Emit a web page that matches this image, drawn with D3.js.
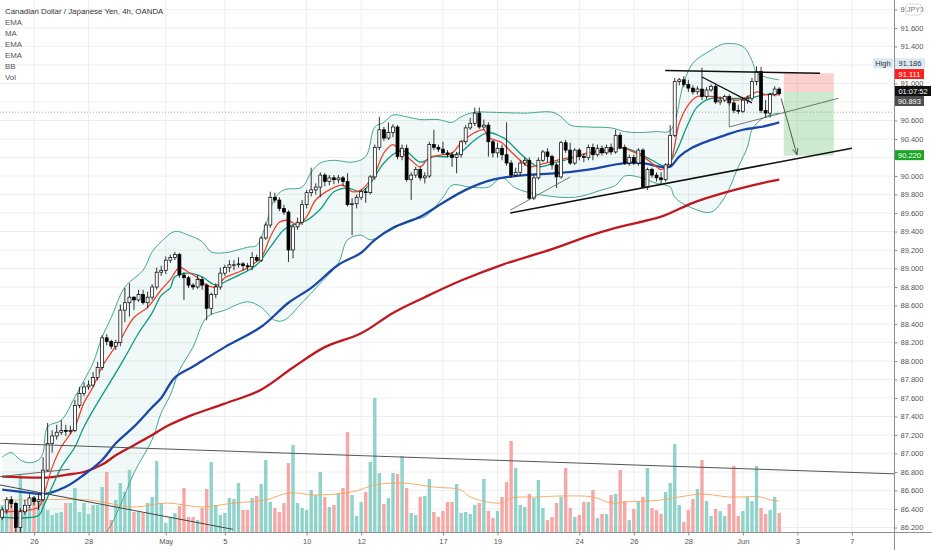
<!DOCTYPE html>
<html><head><meta charset="utf-8">
<script src="https://cdn.jsdelivr.net/npm/d3@7"></script>
<style>html,body{margin:0;padding:0;background:#fff;overflow:hidden}text{font-family:"Liberation Sans",Arial,sans-serif}</style>
</head><body><svg id="c" width="932" height="550"></svg>
<script>
// ---------- DATA (CAD/JPY 4h, OANDA) ----------
const opens = [86.31,86.39,86.50,86.46,86.20,86.37,86.44,86.52,86.48,86.50,
86.82,87.11,87.19,87.23,87.25,87.24,87.25,87.52,87.65,87.72,
87.74,87.82,87.93,88.25,88.21,88.16,88.20,88.55,88.63,88.69,
88.66,88.72,88.63,88.69,88.80,88.96,88.98,89.09,89.12,89.15,
88.93,88.90,88.82,88.80,88.88,88.82,88.57,88.72,88.80,88.95,
89.01,89.04,89.04,89.05,89.03,89.02,89.12,89.09,89.33,89.47,
89.77,89.74,89.65,89.61,89.20,89.45,89.50,89.69,89.82,89.85,
89.88,90.01,89.94,89.98,89.96,89.98,89.94,89.69,89.70,89.77,
89.83,89.82,89.99,90.31,90.50,90.41,90.47,90.53,90.21,90.30,
89.96,90.01,90.07,89.98,90.00,90.34,90.31,90.29,90.25,90.23,
90.20,90.23,90.37,90.52,90.57,90.68,90.53,90.55,90.37,90.25,
90.30,90.23,90.14,90.01,90.04,90.14,90.17,89.76,89.98,90.17,
90.26,90.21,90.12,89.99,90.36,90.28,90.14,90.28,90.21,90.20,
90.31,90.23,90.30,90.25,90.31,90.26,90.44,90.31,90.14,90.20,
90.14,90.28,89.88,90.07,90.01,89.98,89.96,90.12,90.44,91.02,
91.04,90.99,90.95,90.91,90.94,90.86,90.93,90.97,90.80,90.82,
90.86,90.79,90.71,90.70,90.82,90.84,91.02,91.13,90.71,90.68,
90.88,90.94];
const highs = [86.42,86.53,86.54,86.48,86.41,86.50,86.56,86.54,86.55,86.96,
87.33,87.25,87.31,87.36,87.31,87.30,87.58,87.72,87.77,87.79,
87.88,87.99,88.28,88.29,88.23,88.23,88.61,88.79,88.84,88.70,
88.77,88.77,88.75,88.83,89.01,89.03,89.13,89.15,89.18,89.17,
88.96,88.92,88.84,88.93,88.91,88.84,88.74,88.84,89.01,89.04,
89.09,89.09,89.12,89.07,89.06,89.18,89.15,89.35,89.50,89.83,
89.82,89.77,89.69,89.63,89.48,89.55,89.74,89.85,90.09,89.92,
90.04,90.03,90.01,90.01,90.01,90.00,90.03,89.76,89.80,89.85,
89.87,90.01,90.34,90.64,90.53,90.58,90.56,90.55,90.34,90.34,
90.04,90.10,90.10,90.04,90.37,90.50,90.34,90.37,90.28,90.26,
90.26,90.39,90.55,90.63,90.74,90.74,90.61,90.58,90.39,90.36,
90.34,90.58,90.17,90.09,90.17,90.20,90.20,90.01,90.20,90.28,
90.30,90.23,90.14,90.38,90.39,90.36,90.30,90.30,90.24,90.34,
90.35,90.34,90.33,90.34,90.35,90.50,90.47,90.34,90.23,90.23,
90.30,90.30,90.09,90.09,90.04,90.04,90.14,90.55,91.06,91.06,
91.08,91.04,90.98,90.97,91.17,90.96,90.99,90.99,90.86,90.88,
90.88,90.82,90.77,90.84,90.87,91.06,91.186,91.18,90.82,90.90,
90.97,90.96];
const lows = [86.28,86.35,86.41,86.15,86.15,86.34,86.41,86.44,86.39,86.48,
86.80,87.01,87.15,87.20,87.19,87.21,87.23,87.49,87.62,87.69,
87.72,87.79,87.90,88.17,88.13,88.12,88.16,88.42,88.48,88.55,
88.64,88.61,88.57,88.66,88.77,88.92,88.94,89.06,89.09,88.90,
88.66,88.79,88.77,88.78,88.77,88.44,88.50,88.68,88.77,88.92,
88.96,88.98,89.01,88.98,88.98,88.98,89.07,89.07,89.31,89.44,
89.71,89.62,89.58,89.07,89.11,89.42,89.47,89.65,89.78,89.80,
89.77,89.89,89.90,89.91,89.92,89.89,89.67,89.36,89.65,89.74,
89.71,89.80,89.96,90.28,90.38,90.39,90.42,90.18,90.17,89.94,
89.74,89.98,89.95,89.92,89.98,90.28,90.26,90.23,90.20,90.10,
90.03,90.20,90.34,90.50,90.54,90.51,90.50,90.21,90.20,90.20,
90.17,90.11,89.98,89.99,90.00,90.11,89.74,89.74,89.96,90.15,
90.15,90.07,89.87,89.97,90.25,90.12,90.12,90.17,90.15,90.17,
90.17,90.21,90.22,90.23,90.23,90.24,90.29,90.12,90.11,90.12,
90.11,89.87,89.85,89.98,89.94,89.90,89.94,90.10,90.42,90.98,
90.96,90.91,90.88,90.88,90.82,90.83,90.91,90.78,90.77,90.80,
90.76,90.68,90.67,90.68,90.78,90.81,90.98,90.68,90.63,90.63,
90.86,90.87];
const closes = [86.39,86.50,86.46,86.20,86.37,86.44,86.52,86.48,86.50,86.82,
87.11,87.19,87.23,87.25,87.24,87.25,87.52,87.65,87.72,87.74,
87.82,87.93,88.25,88.21,88.16,88.20,88.55,88.63,88.69,88.66,
88.72,88.63,88.69,88.80,88.96,88.98,89.09,89.12,89.15,88.93,
88.90,88.82,88.80,88.88,88.82,88.57,88.72,88.80,88.95,89.01,
89.04,89.04,89.05,89.03,89.02,89.12,89.09,89.33,89.47,89.77,
89.74,89.65,89.61,89.20,89.45,89.50,89.69,89.82,89.85,89.88,
90.01,89.94,89.98,89.96,89.98,89.94,89.69,89.70,89.77,89.83,
89.82,89.99,90.31,90.50,90.41,90.47,90.53,90.21,90.30,89.96,
90.01,90.07,89.98,90.00,90.34,90.31,90.29,90.25,90.23,90.20,
90.23,90.37,90.52,90.57,90.68,90.53,90.55,90.37,90.25,90.30,
90.23,90.14,90.01,90.04,90.14,90.17,89.76,89.98,90.17,90.26,
90.21,90.12,89.99,90.36,90.28,90.14,90.28,90.21,90.20,90.31,
90.23,90.30,90.25,90.31,90.26,90.44,90.31,90.14,90.20,90.14,
90.28,89.88,90.07,90.01,89.98,89.96,90.12,90.44,91.02,91.04,
90.99,90.95,90.91,90.94,90.86,90.93,90.97,90.80,90.82,90.86,
90.79,90.71,90.70,90.82,90.84,91.02,91.13,90.71,90.68,90.88,
90.94,90.89];
const volumes = [27,30,32,29,57,25,25,32,32,42, 22,17,19,20,29,29,44,20,29,18,
27,27,45,60,12,32,49,40,62,20, 20,19,29,35,71,29,9,15,19,26,
44,15,15,12,24,43,70,27,17,19, 34,33,49,22,22,34,36,48,72,30,
24,20,29,69,87,29,24,22,42,37, 60,35,25,27,39,44,100,37,16,30,
40,70,134,59,28,34,59,58,76,44, 19,17,35,36,53,20,15,21,30,30,
48,19,20,18,27,29,53,21,14,21, 35,50,91,64,27,25,38,34,52,24,
12,15,29,35,64,24,15,17,30,30, 42,14,18,18,37,38,62,31,12,23,
30,35,64,24,22,18,40,49,88,27, 10,22,33,43,72,31,16,23,21,16,
28,66,16,21,35,31,66,24,18,22, 35,19];
// indicator readings: [bar index, value]
const volMA = [[0,32],[6,32],[19,32],[29,25],[36,29],[44,25],[51,29],[58,32],[63,39],[69,37],[77,40],[82,47],[88,49],[95,45],[101,42],[103,35],[110,29],[112,34],[118,35],[123,36],[130,35],[134,29],[137,30],[145,32],[149,35],[154,38],[160,35],[167,35],[169,32],[171,31]];
const emaFast = [[0,86.37],[8,86.42],[9,86.53],[11,86.85],[13,87.07],[16,87.29],[18,87.55],[20,87.72],[22,87.94],[24,88.09],[26,88.23],[29,88.47],[32,88.58],[35,88.77],[37,88.88],[39,89.01],[41,88.96],[43,88.90],[45,88.82],[47,88.80],[49,88.90],[52,88.96],[54,89.01],[57,89.12],[59,89.34],[61,89.50],[63,89.52],[65,89.47],[67,89.56],[69,89.74],[72,89.85],[75,89.90],[77,89.83],[79,89.85],[82,90.03],[84,90.25],[86,90.34],[87,90.30],[90,90.17],[92,90.10],[94,90.20],[97,90.23],[99,90.25],[101,90.36],[104,90.47],[106,90.50],[107,90.42],[110,90.36],[111,90.31],[114,90.17],[116,90.10],[118,90.12],[122,90.17],[126,90.21],[129,90.25],[133,90.26],[136,90.31],[138,90.28],[141,90.21],[144,90.10],[145,90.07],[147,90.15],[149,90.57],[151,90.77],[153,90.86],[156,90.86],[159,90.84],[162,90.82],[165,90.88],[166,90.91],[168,90.88],[171,90.88]];
const emaMid = [[0,86.31],[8,86.33],[9,86.42],[11,86.64],[13,86.85],[16,87.07],[18,87.29],[21,87.55],[24,87.79],[27,88.04],[30,88.30],[33,88.52],[35,88.71],[37,88.79],[38,88.91],[41,88.95],[44,88.91],[47,88.82],[50,88.88],[53,88.95],[56,89.04],[59,89.23],[62,89.42],[64,89.47],[67,89.52],[70,89.64],[73,89.83],[76,89.87],[79,89.83],[81,89.92],[84,90.14],[87,90.26],[89,90.26],[92,90.15],[95,90.21],[98,90.21],[101,90.26],[104,90.39],[107,90.47],[110,90.42],[111,90.39],[115,90.20],[118,90.10],[122,90.15],[126,90.20],[129,90.25],[133,90.28],[137,90.30],[140,90.25],[143,90.17],[146,90.11],[148,90.23],[151,90.57],[153,90.75],[156,90.84],[159,90.84],[162,90.84],[165,90.85],[168,90.88],[171,90.90]];
const ema50 = [[0,86.61],[7,86.57],[9,86.56],[14,86.64],[18,86.77],[22,86.93],[25,87.11],[29,87.29],[33,87.50],[35,87.60],[38,87.82],[42,87.94],[49,88.15],[57,88.37],[63,88.63],[68,88.79],[74,89.04],[79,89.17],[82,89.31],[86,89.44],[92,89.56],[97,89.71],[102,89.85],[108,89.96],[115,90.01],[122,90.03],[129,90.07],[137,90.14],[141,90.14],[145,90.10],[147,90.10],[149,90.21],[152,90.31],[156,90.39],[159,90.44],[163,90.50],[167,90.53],[171,90.58]];
const ema200 = [[0,86.75],[7,86.74],[10,86.74],[14,86.77],[18,86.80],[22,86.88],[25,86.98],[29,87.09],[33,87.20],[36,87.29],[40,87.38],[42,87.42],[49,87.54],[57,87.69],[64,87.93],[71,88.15],[79,88.30],[86,88.52],[93,88.69],[101,88.87],[110,89.04],[121,89.21],[129,89.35],[135,89.44],[145,89.56],[152,89.71],[159,89.82],[167,89.92],[171,89.96]];
const bbUpper = [[0,86.96],[2,87.01],[4,86.93],[6,86.90],[8,86.93],[9,87.01],[10,87.29],[13,87.36],[16,87.61],[18,87.79],[20,87.98],[22,88.26],[24,88.47],[27,88.80],[31,88.98],[33,89.18],[35,89.29],[38,89.40],[41,89.36],[44,89.29],[46,89.18],[49,89.17],[54,89.23],[56,89.25],[58,89.47],[60,89.76],[62,89.85],[66,89.88],[68,90.04],[70,90.14],[73,90.17],[77,90.15],[80,90.21],[82,90.53],[84,90.58],[86,90.66],[89,90.64],[92,90.61],[96,90.61],[99,90.58],[101,90.64],[104,90.69],[107,90.69],[115,90.68],[121,90.69],[123,90.64],[125,90.55],[129,90.53],[134,90.52],[137,90.48],[140,90.47],[144,90.48],[147,90.49],[150,91.01],[152,91.22],[156,91.36],[159,91.43],[163,91.40],[165,91.25],[166,91.12],[168,91.07],[171,91.04]];
const bbLower = [[0,85.95],[10,85.90],[20,86.00],[23,86.15],[26,86.44],[29,86.79],[33,87.15],[35,87.44],[37,87.63],[39,87.90],[42,88.15],[45,88.47],[49,88.55],[54,88.64],[57,88.58],[60,88.44],[62,88.44],[66,88.63],[70,88.84],[74,89.06],[76,89.31],[79,89.36],[81,89.31],[85,89.40],[90,89.53],[93,89.56],[97,89.77],[99,89.90],[103,89.88],[107,89.88],[110,89.98],[113,89.87],[118,89.80],[126,89.77],[132,89.85],[135,89.90],[137,90.00],[140,89.99],[144,89.92],[147,89.88],[148,89.77],[152,89.65],[156,89.61],[159,89.77],[162,90.10],[164,90.31],[165,90.50],[167,90.61],[169,90.66],[171,90.68]];
// ticks
const priceTicks = [86.2,86.4,86.6,86.8,87.0,87.2,87.4,87.6,87.8,88.0,88.2,88.4,88.6,88.8,89.0,89.2,89.4,89.6,89.8,90.0,90.2,90.4,90.6,90.8,91.0,91.2,91.4,91.6,91.8];
const hiddenTickLabels = [90.2,90.8,91.2];
const timeTickIdx = [7,19,36,49,67,79,97,109,127,139,151,163,175,187];
const timeTickLabels = ["26","28","May","5","10","12","17","19","24","26","28","Jun","3","7"];
const legendItems = ["Canadian Dollar / Japanese Yen, 4h, OANDA","EMA","MA","EMA","EMA","BB","Vol"];
// levels
const dayHigh = 91.186, lastPrice = 90.893, stopLevel = 91.111, entryLevel = 90.91, targetLevel = 90.22, dottedLevel = 90.69;
const countdown = "01:07:52";
// drawings: [[idx,price],[idx,price]]
const trendLines = [
  {p:[[-0.5,87.11],[196.3,86.78]], c:"#555", w:1},
  {p:[[-0.5,86.66],[50.8,86.18]], c:"#444", w:1},
  {p:[[-0.5,86.75],[14.9,86.83]], c:"#666", w:1},
  {p:[[111.8,89.60],[187,90.30]], c:"#111", w:1.6},
  {p:[[111.8,89.63],[125,89.99]], c:"#555", w:0.8},
  {p:[[145.9,91.14],[180,91.11]], c:"#111", w:1.6},
  {p:[[154,91.07],[165,90.79]], c:"#111", w:1.3},
  {p:[[160,90.82],[160,90.53]], c:"#555", w:0.8},
  {p:[[160,90.53],[184,90.84]], c:"#555", w:0.8}
];
const arrowLine = [[171.4,90.84],[174.9,90.23]];
const posBox = [172,183];

// ---------- CHART ----------
const svg = d3.select("#c");
const PR = 894, PB = 532;
const x = d3.scaleLinear().domain([0,180]).range([2.2, 2.2+180*4.544]);
const y = d3.scaleLinear().domain([86.2,91.6]).range([527.5,28]);
const yv = d3.scaleLinear().domain([0,134]).range([PB,398]);

svg.append("defs").html('<clipPath id="pane"><rect x="0" y="0" width="'+PR+'" height="'+PB+'"/></clipPath>'+
 '<marker id="arr" viewBox="0 0 10 10" refX="9" refY="5" markerWidth="7" markerHeight="7" orient="auto"><path d="M0,1 L9,5 L0,9" fill="none" stroke="#555" stroke-width="1.3"/></marker>');

const pane = svg.append("g").attr("clip-path","url(#pane)");
// grid
pane.selectAll(".hg").data(priceTicks).join("line").attr("x1",0).attr("x2",PR)
  .attr("y1",d=>y(d)).attr("y2",d=>y(d)).attr("stroke","#eeeeee");
pane.selectAll(".vg").data(timeTickIdx).join("line").attr("y1",0).attr("y2",PB)
  .attr("x1",d=>x(d)).attr("x2",d=>x(d)).attr("stroke","#eeeeee");

const curve = d3.curveCatmullRom.alpha(0.5);
const lineGen = d3.line().x(d=>x(d[0])).y(d=>y(d[1])).curve(curve);
// BB fill
const up = lineGen(bbUpper);
const lo = lineGen(bbLower.slice().reverse()).replace(/^M/,"L");
pane.append("path").attr("d",up+lo+"Z").attr("fill","#26a69a").attr("fill-opacity",0.07);
// dotted level
pane.append("line").attr("x1",0).attr("x2",PR).attr("y1",y(dottedLevel)).attr("y2",y(dottedLevel))
  .attr("stroke","#aaa").attr("stroke-dasharray","1,2");
// volume
pane.selectAll(".vol").data(volumes).join("rect")
  .attr("x",(d,i)=>x(i)-1.7).attr("width",3.4)
  .attr("y",d=>yv(d)).attr("height",d=>PB-yv(d))
  .attr("fill",(d,i)=>closes[i]>=opens[i]?"#8fd3ca":"#f6a8a6");
pane.append("path").attr("d",d3.line().x(d=>x(d[0])).y(d=>yv(d[1])).curve(curve)(volMA))
  .attr("fill","none").attr("stroke","#f7a35c").attr("stroke-width",0.9);
// BB lines
[bbUpper,bbLower].forEach(b=>pane.append("path").attr("d",lineGen(b)).attr("fill","none").attr("stroke","#43a88e").attr("stroke-width",1));
// MAs
pane.append("path").attr("d",lineGen(ema200)).attr("fill","none").attr("stroke","#c0181e").attr("stroke-width",2.3);
pane.append("path").attr("d",lineGen(ema50)).attr("fill","none").attr("stroke","#1a47a6").attr("stroke-width",2.3);
pane.append("path").attr("d",lineGen(emaMid)).attr("fill","none").attr("stroke","#0e9a7e").attr("stroke-width",1.3);
pane.append("path").attr("d",lineGen(emaFast)).attr("fill","none").attr("stroke","#f0402e").attr("stroke-width",1.3);
// candles
const cg = pane.append("g");
closes.forEach((c,i)=>{
  const o=opens[i], upC = c>=o;
  cg.append("line").attr("x1",x(i)).attr("x2",x(i)).attr("y1",y(highs[i])).attr("y2",y(lows[i])).attr("stroke","#000").attr("stroke-width",0.8);
  const top=y(Math.max(o,c)), bot=y(Math.min(o,c));
  cg.append("rect").attr("x",x(i)-1.5).attr("width",3).attr("y",top).attr("height",Math.max(0.8,bot-top))
    .attr("fill",upC?"#fff":"#000").attr("stroke","#000").attr("stroke-width",0.7);
});
// position tool
pane.append("rect").attr("x",x(posBox[0])).attr("width",x(posBox[1])-x(posBox[0]))
  .attr("y",y(stopLevel)).attr("height",y(entryLevel)-y(stopLevel)).attr("fill","#f44336").attr("fill-opacity",0.25);
pane.append("rect").attr("x",x(posBox[0])).attr("width",x(posBox[1])-x(posBox[0]))
  .attr("y",y(entryLevel)).attr("height",y(targetLevel)-y(entryLevel)).attr("fill","#4caf50").attr("fill-opacity",0.28);
// drawings
const segGen = d3.line().x(d=>x(d[0])).y(d=>y(d[1]));
trendLines.forEach(t=>pane.append("path").attr("d",segGen(t.p)).attr("fill","none").attr("stroke",t.c).attr("stroke-width",t.w));
pane.append("path").attr("d",segGen(arrowLine)).attr("fill","none").attr("stroke","#555").attr("stroke-width",1).attr("marker-end","url(#arr)");

// axes
svg.append("line").attr("x1",0).attr("x2",932).attr("y1",PB+0.5).attr("y2",PB+0.5).attr("stroke","#8f8f8f");
svg.append("line").attr("x1",PR+0.5).attr("x2",PR+0.5).attr("y1",0).attr("y2",550).attr("stroke","#8f8f8f");
const f3 = d3.format(".3f");
const ya = svg.append("g").attr("transform",`translate(${PR+0.5},0)`)
  .call(d3.axisRight(y).tickValues(priceTicks).tickSize(3).tickPadding(3)
    .tickFormat(d=>hiddenTickLabels.some(h=>Math.abs(h-d)<1e-6)?"":f3(d)));
ya.select(".domain").remove();
ya.selectAll("line").attr("stroke","#8f8f8f");
ya.selectAll("text").attr("font-size","7.5px").attr("fill","#555");
const xa = svg.append("g").attr("transform",`translate(0,${PB+0.5})`)
  .call(d3.axisBottom(x).tickValues(timeTickIdx).tickSize(3).tickPadding(3).tickFormat((d,i)=>timeTickLabels[i]));
xa.select(".domain").remove();
xa.selectAll("line").attr("stroke","#8f8f8f");
xa.selectAll("text").attr("font-size","7.5px").attr("fill","#555");

// currency box
svg.append("rect").attr("x",906).attr("y",4).attr("width",15).attr("height",11).attr("rx",2).attr("fill","#fff").attr("stroke","#ccc").attr("stroke-width",0.7);
svg.append("text").attr("x",913.5).attr("y",12.3).attr("text-anchor","middle").attr("font-size","7px").attr("fill","#777").text("JPY");

// price labels
function tag(x0,yc,w,fill,txt,col){
  svg.append("rect").attr("x",x0).attr("y",yc-5).attr("width",w).attr("height",10).attr("fill",fill);
  svg.append("text").attr("x",x0+w/2).attr("y",yc+2.7).attr("text-anchor","middle").attr("font-size","7.5px").attr("fill",col).text(txt);
}
tag(873,y(dayHigh)-3,20,"#dbe8f5","High","#333");
tag(895,y(dayHigh)-3,30,"#dbe8f5",f3(dayHigh),"#333");
tag(895,y(stopLevel)+0.8,29,"#ff1f1f",f3(stopLevel),"#fff");
tag(895,y(lastPrice)-2.4,36,"#111",countdown,"#fff");
tag(895,y(lastPrice)+7.6,29,"#4d4d4d",f3(lastPrice),"#fff");
tag(895,y(targetLevel)-0.5,29,"#19a625",f3(targetLevel),"#fff");

// legend
svg.selectAll(".lg").data(legendItems).join("text").attr("x",5).attr("y",(d,i)=>14+i*11)
  .attr("font-size","7.9px").attr("fill",(d,i)=>i===0?"#333":"#555").text(d=>d);
</script></body></html>
